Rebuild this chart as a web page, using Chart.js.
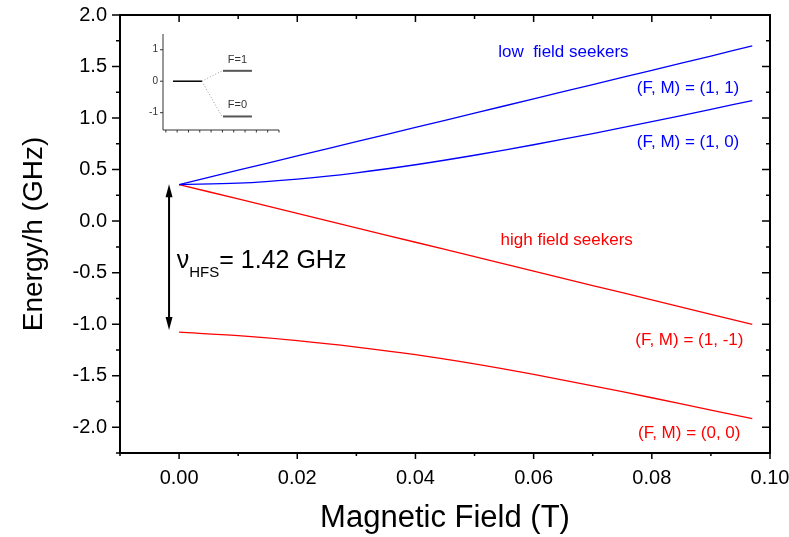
<!DOCTYPE html>
<html>
<head>
<meta charset="utf-8">
<script src="https://cdn.jsdelivr.net/npm/chart.js@4.4.1/dist/chart.umd.min.js"></script>
<style>
  body { margin: 0; background: #fff; }
  #wrap { position: relative; width: 789px; height: 537px; }
  #main { position: absolute; left: 0; top: 0; }
  #inset { position: absolute; left: 140px; top: 25px; }
</style>
</head>
<body>
<div id="wrap">
  <canvas id="main" width="789" height="537"></canvas>
  <canvas id="inset" width="150" height="115"></canvas>
</div>
<script>
/* ---------- DATA ---------- */
const fieldT = [0, 0.01, 0.02, 0.03, 0.04, 0.05, 0.06, 0.07, 0.08, 0.09, 0.097];
const e11  = [0.355, 0.494, 0.632, 0.771, 0.909, 1.048, 1.186, 1.325, 1.463, 1.602, 1.700];
const e10  = [0.355, 0.368, 0.408, 0.469, 0.547, 0.639, 0.741, 0.850, 0.965, 1.085, 1.170];
const e1m1 = [0.355, 0.215, 0.075, -0.065, -0.205, -0.345, -0.485, -0.625, -0.765, -0.905, -1.001];
const e00  = [-1.078, -1.112, -1.160, -1.222, -1.296, -1.386, -1.488, -1.598, -1.714, -1.834, -1.917];

const xMajor = [0, 0.02, 0.04, 0.06, 0.08, 0.10];
const xMinor = [-0.01, 0.01, 0.03, 0.05, 0.07, 0.09];
const xTickLabels = ['0.00', '0.02', '0.04', '0.06', '0.08', '0.10'];
const yMajor = [-2.0, -1.5, -1.0, -0.5, 0.0, 0.5, 1.0, 1.5, 2.0];
const yMinor = [-2.25, -1.75, -1.25, -0.75, -0.25, 0.25, 0.75, 1.25, 1.75];
const yTickLabels = ['-2.0', '-1.5', '-1.0', '-0.5', '0.0', '0.5', '1.0', '1.5', '2.0'];

// hyperfine splitting arrow (field, upper, lower)
const arrowField = -0.0017;
const arrowEnds = [0.357, -1.057];

// inset: unsplit level and the two F levels
const insetRowX = [0.63, 3.19];
const insetSplitX = [5.05, 7.61];
const insetDotEnd = 4.96;
const insetLevels = [0.33, -1.12];
const insetLevelNames = ['F=1', 'F=0'];
const insetYTicks = [-1, 0, 1];
const insetXTicks = [0, 1, 2, 3, 4, 5, 6, 7, 8, 9, 10];

const FONT = '"Liberation Sans", Arial, sans-serif';
const BLUE = '#0000ff';
const RED = '#ff0000';

function pts(ys) {
  return fieldT.map((x, i) => ({ x: x, y: ys[i] }));
}

function curve(ys, color) {
  return {
    data: pts(ys),
    borderColor: color,
    borderWidth: 1.3,
    pointRadius: 0,
    tension: 0.35,
    fill: false
  };
}

/* ---------- MAIN PLOT DECORATIONS ---------- */
const framePlugin = {
  id: 'frame',
  afterDatasetsDraw(chart) {
    const ctx = chart.ctx;
    const a = chart.chartArea;
    const sx = chart.scales.x, sy = chart.scales.y;
    ctx.save();

    // box
    ctx.strokeStyle = '#000';
    ctx.lineWidth = 2;
    ctx.strokeRect(a.left, a.top, a.right - a.left, a.bottom - a.top);

    // ticks
    ctx.lineWidth = 1.5;
    ctx.beginPath();
    const tx = (v, big) => {
      const p = sx.getPixelForValue(v);
      ctx.moveTo(p, a.bottom); ctx.lineTo(p, a.bottom + (big ? 6 : 3));
      ctx.moveTo(p, a.top); ctx.lineTo(p, a.top + (big ? 7 : 4));
    };
    const ty = (v, big) => {
      const p = sy.getPixelForValue(v);
      ctx.moveTo(a.left, p); ctx.lineTo(a.left - (big ? 8 : 4), p);
      ctx.moveTo(a.right, p); ctx.lineTo(a.right - (big ? 8 : 4), p);
    };
    xMajor.forEach(v => tx(v, true));
    xMinor.forEach(v => tx(v, false));
    yMajor.forEach(v => ty(v, true));
    yMinor.forEach(v => ty(v, false));
    ctx.stroke();

    // double arrow
    const ax = sx.getPixelForValue(arrowField);
    const ay1 = sy.getPixelForValue(arrowEnds[0]);
    const ay2 = sy.getPixelForValue(arrowEnds[1]);
    ctx.lineWidth = 2;
    ctx.beginPath();
    ctx.moveTo(ax, ay1 + 10); ctx.lineTo(ax, ay2 - 10);
    ctx.stroke();
    ctx.fillStyle = '#000';
    ctx.beginPath();
    ctx.moveTo(ax, ay1); ctx.lineTo(ax - 3.5, ay1 + 13); ctx.lineTo(ax + 3.5, ay1 + 13);
    ctx.closePath(); ctx.fill();
    ctx.beginPath();
    ctx.moveTo(ax, ay2); ctx.lineTo(ax - 3.5, ay2 - 13); ctx.lineTo(ax + 3.5, ay2 - 13);
    ctx.closePath(); ctx.fill();

    // labels
    const txt = (s, x, y, color, align, size) => {
      ctx.font = size + 'px ' + FONT;
      ctx.fillStyle = color;
      ctx.textAlign = align;
      ctx.textBaseline = 'alphabetic';
      ctx.fillText(s, sx.getPixelForValue(x), sy.getPixelForValue(y));
    };
    txt('low  field seekers', 0.054, 1.592, BLUE, 'left', 17);
    txt('(F, M) = (1, 1)', 0.0948, 1.243, BLUE, 'right', 17);
    txt('(F, M) = (1, 0)', 0.0948, 0.716, BLUE, 'right', 17);
    txt('high field seekers', 0.0544, -0.232, RED, 'left', 17);
    txt('(F, M) = (1, -1)', 0.0955, -1.202, RED, 'right', 17);
    txt('(F, M) = (0, 0)', 0.0950, -2.108, RED, 'right', 17);

    // nu_HFS label
    const nx = sx.getPixelForValue(-0.0004);
    const ny = sy.getPixelForValue(-0.455);
    ctx.fillStyle = '#000';
    ctx.textAlign = 'left';
    ctx.font = '25px ' + FONT;
    ctx.fillText('\u03bd', nx, ny);
    let cx = nx + ctx.measureText('\u03bd').width;
    ctx.font = '15px ' + FONT;
    ctx.fillText('HFS', cx, ny + 9);
    cx += ctx.measureText('HFS').width;
    ctx.font = '25px ' + FONT;
    ctx.fillText('= 1.42 GHz', cx, ny);

    ctx.restore();
  }
};

new Chart(document.getElementById('main'), {
  type: 'line',
  data: {
    datasets: [curve(e11, BLUE), curve(e10, BLUE), curve(e1m1, RED), curve(e00, RED)]
  },
  options: {
    responsive: false,
    animation: false,
    layout: { padding: { top: 15, right: 19, left: 0, bottom: 0 } },
    plugins: { legend: { display: false }, tooltip: { enabled: false } },
    scales: {
      x: {
        type: 'linear',
        min: -0.01,
        max: 0.10,
        afterBuildTicks: s => { s.ticks = xMajor.map(v => ({ value: v })); },
        afterFit: s => { s.height = 84; s.paddingLeft = 0; s.paddingRight = 0; },
        grid: { display: false, drawTicks: false },
        border: { display: false },
        ticks: {
          autoSkip: false, maxRotation: 0, padding: 13, color: '#000',
          font: { family: FONT, size: 20 },
          callback: (v, i) => xTickLabels[i]
        },
        title: {
          display: true, text: 'Magnetic Field (T)', color: '#000',
          font: { family: FONT, size: 31 }, padding: { top: 0, bottom: 0 }
        }
      },
      y: {
        type: 'linear',
        min: -2.25,
        max: 2.0,
        afterBuildTicks: s => { s.ticks = yMajor.map(v => ({ value: v })); },
        afterFit: s => { s.width = 120; s.paddingTop = 0; s.paddingBottom = 0; },
        grid: { display: false, drawTicks: false },
        border: { display: false },
        ticks: {
          autoSkip: false, padding: 13, color: '#000',
          font: { family: FONT, size: 20 },
          callback: (v, i) => yTickLabels[i]
        },
        title: {
          display: true, text: 'Energy/h (GHz)', color: '#000',
          font: { family: FONT, size: 28 }, padding: { top: 17, bottom: 0 }
        }
      }
    }
  },
  plugins: [framePlugin]
});

/* ---------- INSET ---------- */
const insetPlugin = {
  id: 'insetAxes',
  afterDatasetsDraw(chart) {
    const ctx = chart.ctx;
    const a = chart.chartArea;
    const sx = chart.scales.x, sy = chart.scales.y;
    ctx.save();
    ctx.strokeStyle = '#333';
    ctx.lineWidth = 1;
    ctx.beginPath();
    ctx.moveTo(a.left, a.top); ctx.lineTo(a.left, a.bottom); ctx.lineTo(a.right, a.bottom);
    insetYTicks.forEach(v => {
      const p = sy.getPixelForValue(v);
      ctx.moveTo(a.left, p); ctx.lineTo(a.left - 3, p);
    });
    insetXTicks.forEach(v => {
      const p = sx.getPixelForValue(v);
      ctx.moveTo(p, a.bottom); ctx.lineTo(p, a.bottom + 2.5);
    });
    ctx.stroke();

    ctx.fillStyle = '#333';
    ctx.font = '11px ' + FONT;
    ctx.textAlign = 'center';
    ctx.textBaseline = 'alphabetic';
    const mid = (insetSplitX[0] + insetSplitX[1]) / 2;
    insetLevels.forEach((lv, i) => {
      ctx.fillText(insetLevelNames[i], sx.getPixelForValue(mid), sy.getPixelForValue(lv) - 8);
    });
    ctx.restore();
  }
};

const insetSets = [
  {
    data: insetRowX.map(x => ({ x: x, y: 0 })),
    borderColor: '#000', borderWidth: 1.5, pointRadius: 0
  }
];
insetLevels.forEach(lv => {
  insetSets.push({
    data: [{ x: insetRowX[1], y: 0 }, { x: insetDotEnd, y: lv }],
    borderColor: '#999', borderWidth: 1, borderDash: [1, 2], pointRadius: 0
  });
  insetSets.push({
    data: insetSplitX.map(x => ({ x: x, y: lv })),
    borderColor: '#555', borderWidth: 2, pointRadius: 0
  });
});

new Chart(document.getElementById('inset'), {
  type: 'line',
  data: { datasets: insetSets },
  options: {
    responsive: false,
    animation: false,
    layout: { padding: { top: 9, right: 11, left: 0, bottom: 0 } },
    plugins: { legend: { display: false }, tooltip: { enabled: false } },
    scales: {
      x: {
        type: 'linear', min: -0.25, max: 10,
        afterFit: s => { s.height = 10; s.paddingLeft = 0; s.paddingRight = 0; },
        grid: { display: false, drawTicks: false },
        border: { display: false },
        ticks: { display: false }
      },
      y: {
        type: 'linear', min: -1.55, max: 1.5,
        afterBuildTicks: s => { s.ticks = insetYTicks.map(v => ({ value: v })); },
        afterFit: s => { s.width = 23; s.paddingTop = 0; s.paddingBottom = 0; },
        grid: { display: false, drawTicks: false },
        border: { display: false },
        ticks: {
          padding: 5, color: '#333',
          font: { family: FONT, size: 10 },
          callback: v => String(v)
        }
      }
    }
  },
  plugins: [insetPlugin]
});
</script>
</body>
</html>
